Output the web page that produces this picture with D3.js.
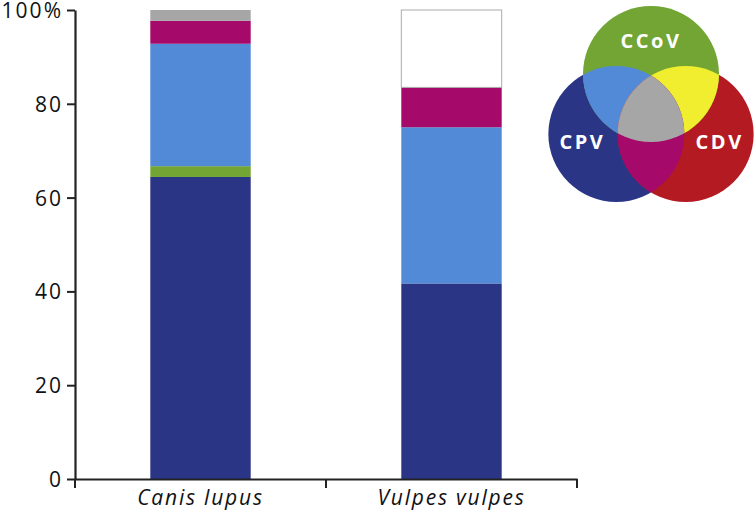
<!DOCTYPE html>
<html>
<head>
<meta charset="utf-8">
<script src="https://cdn.jsdelivr.net/npm/d3@7"></script>
<style>
  body { margin: 0; background: white; }
  text { font-family: "Open Sans", sans-serif; }
</style>
</head>
<body>
<div id="graf"></div>
<script>
const categories = ["Canis lupus", "Vulpes vulpes"]
const groups = ["CPV", "CPV+CCoV", "CPV+CCoV(2)", "CPV+CDV", "CPV+CCoV+CDV", "none"]
// percentages, stacked bottom to top
const canisValues = [64.4, 2.3, 26.1, 4.9, 2.3, 0]
const vulpesValues = [41.7, 0, 33.3, 8.5, 0, 16.5]
const yTicks = [0, 20, 40, 60, 80, 100]
const vennSets = ["CCoV", "CPV", "CDV"]

const colors = {
  dark: "#2b3586",
  green: "#72a534",
  light: "#528ad8",
  magenta: "#a50a6a",
  grey: "#a6a6a6",
  yellow: "#f1ed2f",
  red: "#b41a22",
}
const segColors = [colors.dark, colors.green, colors.light, colors.magenta, colors.grey, "white"]

const anchoTotal = 754
const altoTotal = 512
const margins = { top: 10, right: 177, bottom: 33, left: 75 }

const svg = d3.select("#graf")
  .append("svg")
  .attr("width", anchoTotal)
  .attr("height", altoTotal)

const y = d3.scaleLinear()
  .domain([0, 100])
  .range([altoTotal - margins.bottom, margins.top])

const x = d3.scaleBand()
  .domain(categories)
  .range([margins.left, anchoTotal - margins.right])
  .paddingInner(0)

const barW = x.bandwidth() * 0.4

const rows = categories.map((c, i) => {
  const vals = i === 0 ? canisValues : vulpesValues
  const row = { cat: c }
  groups.forEach((g, j) => (row[g] = vals[j]))
  return row
})

const stack = d3.stack().keys(groups)
const series = stack(rows)

const g = svg.append("g")

series.forEach((s, j) => {
  g.selectAll(null)
    .data(s.filter((d) => d[1] - d[0] > 0))
    .enter()
    .append("rect")
    .attr("x", (d) => x(d.data.cat) + (x.bandwidth() - barW) / 2)
    .attr("width", barW)
    .attr("y", (d) => y(d[1]))
    .attr("height", (d) => y(d[0]) - y(d[1]))
    .attr("fill", segColors[j])
    .attr("stroke", segColors[j] === "white" ? "#aaa" : "none")
    .attr("stroke-width", 1)
})

// y axis
const yAxis = svg.append("g")
  .attr("transform", `translate(${margins.left},0)`)
  .call(d3.axisLeft(y).tickValues(yTicks)
    .tickFormat((d) => (d === 100 ? "100%" : d))
    .tickSize(8).tickSizeOuter(0).tickPadding(4))
yAxis.select(".domain").attr("stroke", "#222").attr("stroke-width", 2.2)
yAxis.selectAll(".tick line").attr("stroke", "#222").attr("stroke-width", 2)
yAxis.selectAll(".tick text")
  .attr("font-size", 21)
  .attr("letter-spacing", 2)
  .attr("dy", "0.36em")
  .attr("fill", "#111")
  .style("font-family", "Open Sans, sans-serif")

// x axis
const xAxis = svg.append("g")
  .attr("transform", `translate(0,${y(0)})`)
  .call(d3.axisBottom(x).tickSize(0).tickPadding(11))
xAxis.select(".domain").attr("stroke", "#222").attr("stroke-width", 2.2)
xAxis.selectAll(".tick text")
  .attr("font-size", 21)
  .attr("font-style", "italic")
  .attr("letter-spacing", 1.8)
  .attr("fill", "#111")
  .style("font-family", "Open Sans, sans-serif")

const edges = categories.map((c) => x(c)).concat([x.range()[1]])
xAxis.selectAll(".edge")
  .data(edges)
  .enter()
  .append("line")
  .attr("x1", (d) => d)
  .attr("x2", (d) => d)
  .attr("y1", 0)
  .attr("y2", 9)
  .attr("stroke", "#222")
  .attr("stroke-width", 2)

// venn legend
const vennCenter = { x: 651, y: 114 }
const r = 68
const spread = 40
const angles = [-90, 150, 30]
const circles = vennSets.map((name, i) => ({
  name,
  cx: vennCenter.x + spread * Math.cos((angles[i] * Math.PI) / 180),
  cy: vennCenter.y + spread * Math.sin((angles[i] * Math.PI) / 180),
}))
const [cCo, cPv, cDv] = circles

const defs = svg.append("defs")
circles.forEach((c) => {
  defs.append("clipPath").attr("id", "clip-" + c.name)
    .append("circle").attr("cx", c.cx).attr("cy", c.cy).attr("r", r)
})

const venn = svg.append("g")
const baseColors = { CCoV: colors.green, CPV: colors.dark, CDV: colors.red }
venn.selectAll(".base")
  .data([cPv, cDv, cCo])
  .enter()
  .append("circle")
  .attr("cx", (d) => d.cx)
  .attr("cy", (d) => d.cy)
  .attr("r", r)
  .attr("fill", (d) => baseColors[d.name])

const pairs = [
  [cCo, cPv, colors.light],
  [cCo, cDv, colors.yellow],
  [cPv, cDv, colors.magenta],
]
pairs.forEach(([a, b, col]) => {
  venn.append("g").attr("clip-path", `url(#clip-${a.name})`)
    .append("circle")
    .attr("cx", b.cx).attr("cy", b.cy).attr("r", r)
    .attr("fill", col)
})
venn.append("g").attr("clip-path", "url(#clip-CCoV)")
  .append("g").attr("clip-path", "url(#clip-CPV)")
  .append("circle")
  .attr("cx", cDv.cx).attr("cy", cDv.cy).attr("r", r)
  .attr("fill", colors.grey)

const labelOff = { CCoV: [0, -31], CPV: [-34, 10], CDV: [34, 10] }
venn.selectAll(".lab")
  .data(circles)
  .enter()
  .append("text")
  .attr("x", (d) => d.cx + labelOff[d.name][0])
  .attr("y", (d) => d.cy + labelOff[d.name][1])
  .attr("text-anchor", "middle")
  .attr("dominant-baseline", "middle")
  .attr("fill", "white")
  .attr("font-weight", "bold")
  .attr("font-size", 20)
  .attr("letter-spacing", 2.5)
  .text((d) => d.name)
</script>
</body>
</html>
